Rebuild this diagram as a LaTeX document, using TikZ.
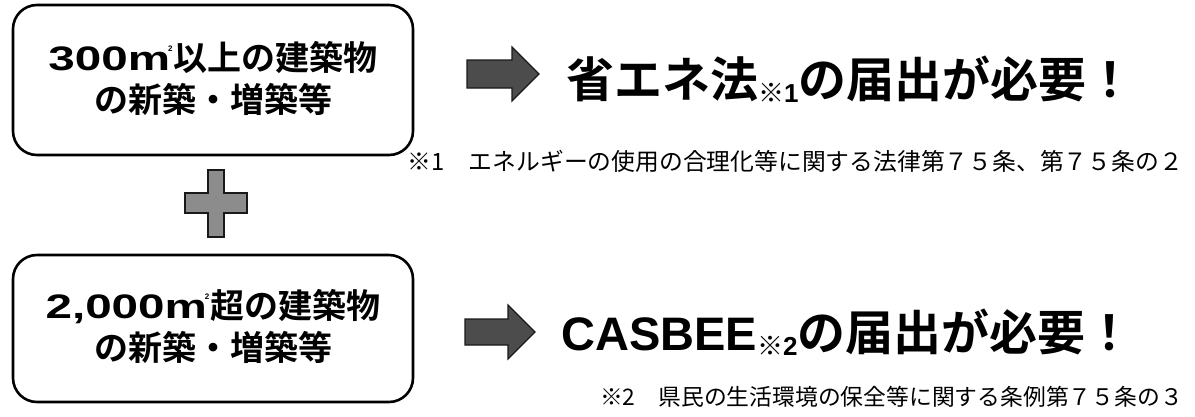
\documentclass[tikz,border=0pt]{standalone}
\usepackage{fontspec}
\usepackage{graphicx}
\newfontfamily\jp{Noto Sans CJK JP}[BoldFont={Noto Sans CJK JP Bold}]
\newfontfamily\lat{Liberation Sans}
\newcommand\wide[1]{\scalebox{1.4}[1]{\lat\bfseries #1}}
\newcommand\sqm{\kern-2pt\raisebox{0.55em}{\lat\bfseries\fontsize{8}{8}\selectfont 2}\kern1pt}
\newcommand\subnote[1]{\raisebox{-5pt}{\fontsize{26}{26}\selectfont ※{\lat\bfseries #1}}}
\begin{document}
\begin{tikzpicture}[x=1pt,y=-1pt,
  box/.style={draw=black, line width=2.6pt, rounded corners=24pt, minimum width=400pt, inner sep=0pt},
  arrowshape/.style={fill=black!70, draw=black!90, line width=1.2pt},
  plusshape/.style={fill=black!45, draw=black!90, line width=2pt},
  boxtext/.style={anchor=base, inner sep=0pt, font=\jp\bfseries\fontsize{34}{34}\selectfont},
  bigtext/.style={anchor=base west, inner sep=0pt, font=\jp\bfseries\fontsize{48}{48}\selectfont},
  note/.style={anchor=base east, inner sep=0pt, font=\jp\fontsize{23.8}{23.8}\selectfont}]
\useasboundingbox (0,0) rectangle (1195,416);
% boxes
\node[box, minimum height=150pt] (box1) at (213,80) {};
\node[box, minimum height=147pt] (box2) at (213,328.5) {};
\node[boxtext] (b1a) at (213,70) {\wide{300m}\sqm 以上の建築物};
\node[boxtext] (b1b) at (213,112) {の新築・増築等};
\node[boxtext] (b2a) at (213,318) {\wide{2,000m}\sqm 超の建築物};
\node[boxtext] (b2b) at (213,360) {の新築・増築等};
% plus
\draw[plusshape] (208,170) -- (224,170) -- (224,193) -- (247,193) -- (247,213) -- (224,213) -- (224,237) -- (208,237) -- (208,213) -- (185,213) -- (185,193) -- (208,193) -- cycle;
% arrows
\draw[arrowshape] (467,60) -- (512,60) -- (512,47) -- (539,74) -- (512,101) -- (512,88) -- (467,88) -- cycle;
\draw[arrowshape] (465,319) -- (508,319) -- (508,305) -- (535,332) -- (508,359) -- (508,345) -- (465,345) -- cycle;
% main texts
\node[bigtext] (t1) at (566,97) {省エネ法\subnote{1}の届出が必要！};
\node[bigtext] (t2) at (561,350) {{\lat\bfseries\fontsize{47}{47}\selectfont CASBEE}\subnote{2}の届出が必要！};
% notes
\node[note] (n1) at (1183,170) {※1\hspace{1em}エネルギーの使用の合理化等に関する法律第７５条、第７５条の２};
\node[note, font=\jp\fontsize{22.8}{22.8}\selectfont] (n2) at (1183,405) {※2\hspace{1em}県民の生活環境の保全等に関する条例第７５条の３};
\end{tikzpicture}
\end{document}
